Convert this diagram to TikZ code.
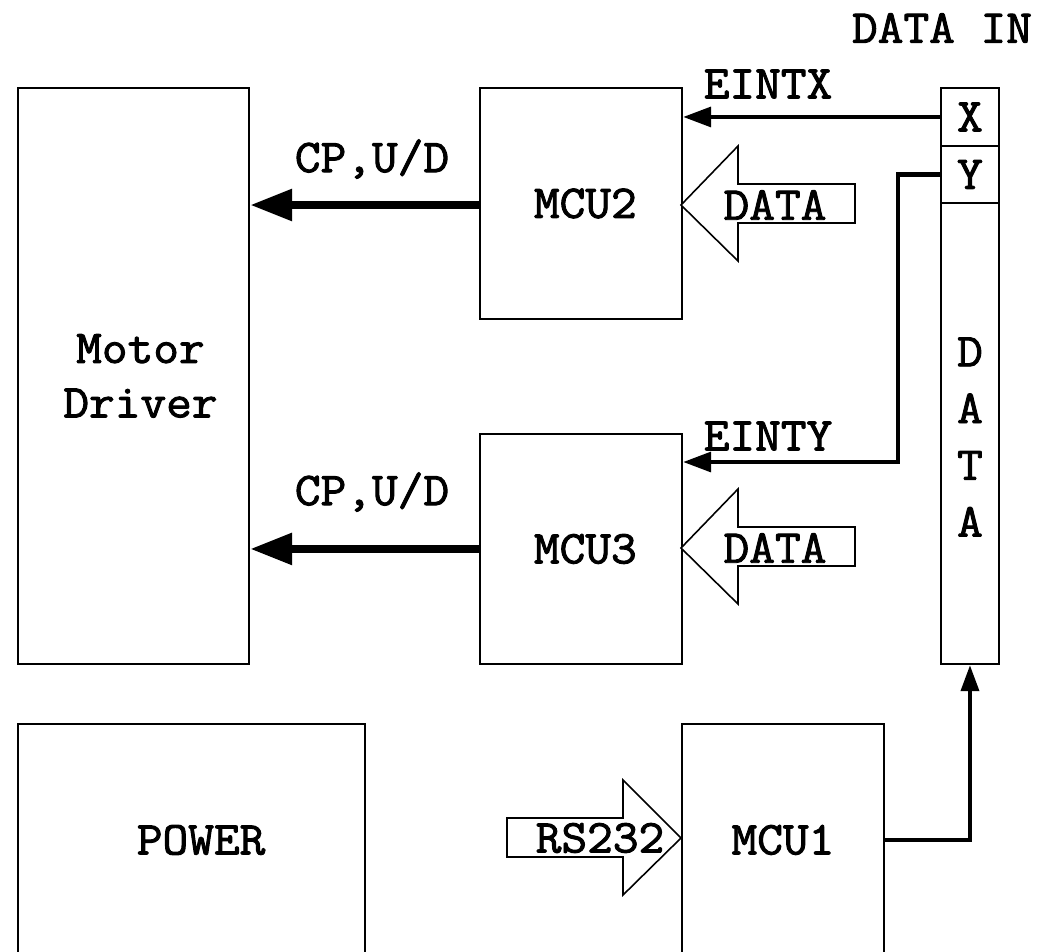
\documentclass[tikz,border=0pt]{standalone}
\usepackage{fontspec}
\newfontfamily\monof[FakeStretch=1.06,FakeBold=2]{Latin Modern Mono}
\usetikzlibrary{arrows.meta}
\tikzset{
  every node/.style={font=\monof\fontsize{26.8}{31}\selectfont, inner sep=0pt},
  blk/.style={draw, line width=1.1pt, anchor=north west},
  sig/.style={line width=2.8pt, -{Triangle[length=16pt,width=11pt]}},
  cpa/.style={line width=5pt, -{Triangle[length=24pt,width=17pt]}},
  busa/.style={line width=2.8pt, -{Triangle[length=15pt,width=10pt]}},
  hollow/.style={draw, line width=0.9pt, fill=white},
}
\begin{document}
\begin{tikzpicture}[x=0.02cm,y=-0.02cm]
\useasboundingbox (0,0) rectangle (1037,951);
\clip (0,0) rectangle (1037,951);
% boxes
\node[blk, minimum width=4.62cm, minimum height=11.52cm, align=center] (motor) at (17,87) {\hspace*{8pt}Motor\\\hspace*{8pt}Driver};
\node[blk, minimum width=4.04cm, minimum height=4.62cm] (mcu2) at (479,87) {\hspace*{5pt}MCU2};
\node[blk, minimum width=4.04cm, minimum height=4.60cm] (mcu3) at (479,433) {\hspace*{5pt}MCU3};
\node[blk, minimum width=1.16cm, minimum height=11.52cm] (bus) at (940,87) {};
\node[blk, minimum width=1.16cm, minimum height=1.16cm] (xcell) at (940,87) {X};
\node[blk, minimum width=1.16cm, minimum height=1.14cm] (ycell) at (940,145) {Y};
\node[blk, minimum width=6.94cm, minimum height=4.64cm] (power) at (17,723) {\hspace*{11pt}POWER};
\node[blk, minimum width=4.04cm, minimum height=4.64cm] (mcu1) at (681,723) {MCU1};
% bus text
\node[align=center, font=\monof\fontsize{26.8}{32.3}\selectfont] (busdata) at (970,437) {D\\A\\T\\A};
\node (datain) at (942,28) {DATA IN};
% signals
\draw[sig] (xcell.west) -- (xcell.west -| mcu2.east);
\node (eintx) at (768,84) {EINTX};
\coordinate (yturn) at (898,462);
\draw[sig] (ycell.west) -| (yturn) -- (yturn -| mcu3.east);
\node (einty) at (768,436) {EINTY};
\draw[cpa] (mcu2.west |- 0,205) -- (motor.east |- 0,205);
\node (cp2) at (372,159) {CP,U/D};
\draw[cpa] (mcu3.west) -- (motor.east |- mcu3.west);
\node (cp3) at (372,492) {CP,U/D};
\draw[busa] (mcu1.east) -| (bus.south);
% hollow arrows
\draw[hollow] (681,205) -- (738,146) -- (738,184) -- (855,184) -- (855,223) -- (738,223) -- (738,261) -- cycle;
\node (data2) at (775,205) {DATA};
\draw[hollow] (681,548) -- (738,489) -- (738,527) -- (855,527) -- (855,566) -- (738,566) -- (738,604) -- cycle;
\node (data3) at (775,548) {DATA};
\draw[hollow] (681,838) -- (623,780) -- (623,818) -- (507,818) -- (507,857) -- (623,857) -- (623,895) -- cycle;
\node (rs) at (600,838) {RS232};
\end{tikzpicture}
\end{document}
